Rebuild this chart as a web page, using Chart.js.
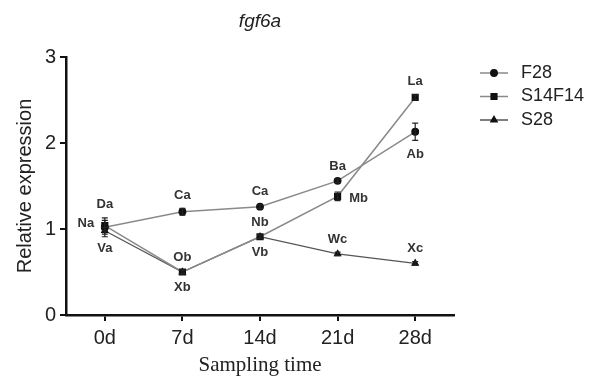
<!DOCTYPE html>
<html>
<head>
<meta charset="utf-8">
<script src="https://cdn.jsdelivr.net/npm/chart.js@4/dist/chart.umd.min.js"></script>
<style>
  html, body { margin: 0; padding: 0; background: #fff; }
  #wrap { width: 590px; height: 378px; }
</style>
</head>
<body>
<div id="wrap"><canvas id="graficoFgf"></canvas></div>
<script>
// dados
const dias = ['0d', '7d', '14d', '21d', '28d'];
const valoresF28 = [1.02, 1.20, 1.26, 1.56, 2.13];
const valoresS14F14 = [1.04, 0.50, 0.91, 1.38, 2.53];
const valoresS28 = [0.98, 0.50, 0.91, 0.71, 0.60];
const erroF28 = [0.11, 0.04, 0.02, 0.02, 0.10];
const erroS14F14 = [0.06, 0.02, 0.02, 0.05, 0.03];
const erroS28 = [0.04, 0.02, 0.02, 0.02, 0.02];
const letrasF28 = ['Da', 'Ca', 'Ca', 'Ba', 'Ab'];
const letrasS14F14 = ['Na', 'Ob', 'Nb', 'Mb', 'La'];
const letrasS28 = ['Va', 'Xb', 'Vb', 'Wc', 'Xc'];
const ticksY = [0, 1, 2, 3];

// onde cada letra fica em volta do ponto
const ladoF28 = ['top', 'top', 'top', 'top', 'bottom'];
const ladoS14F14 = ['left', 'top', 'top', 'right', 'top'];
const ladoS28 = ['bottom', 'bottom', 'bottom', 'top', 'top'];

const fonteSans = '"Liberation Sans", Arial, sans-serif';

const pluginExtras = {
    id: 'extras',
    afterDatasetsDraw(chart) {
        const ctx = chart.ctx;
        const y = chart.scales.y;
        ctx.save();
        chart.data.datasets.forEach((ds, i) => {
            const meta = chart.getDatasetMeta(i);
            meta.data.forEach((pt, j) => {
                const e = ds.erros[j];
                const yTop = y.getPixelForValue(ds.data[j] + e);
                const yBot = y.getPixelForValue(ds.data[j] - e);
                ctx.strokeStyle = '#222';
                ctx.lineWidth = 1.2;
                ctx.beginPath();
                ctx.moveTo(pt.x, yTop); ctx.lineTo(pt.x, yBot);
                ctx.moveTo(pt.x - 3, yTop); ctx.lineTo(pt.x + 3, yTop);
                ctx.moveTo(pt.x - 3, yBot); ctx.lineTo(pt.x + 3, yBot);
                ctx.stroke();

                // letras de significância
                const half = (yBot - yTop) / 2;
                ctx.fillStyle = '#333';
                ctx.font = 'bold 13px ' + fonteSans;
                ctx.textAlign = 'center';
                ctx.textBaseline = 'middle';
                let tx = pt.x, ty = pt.y;
                const lado = ds.lados[j];
                if (lado === 'top') ty = pt.y - 13 - half;
                else if (lado === 'bottom') ty = pt.y + 14 + half;
                else if (lado === 'left') { tx = pt.x - 19; ty = pt.y - 2; }
                else if (lado === 'right') { tx = pt.x + 21; ty = pt.y + 2; }
                ctx.fillText(ds.letras[j], tx, ty);
            });
        });
        ctx.restore();
    },
    afterDraw(chart) {
        const ctx = chart.ctx;
        ctx.save();
        // titulo
        ctx.fillStyle = '#222';
        ctx.font = 'italic 19px ' + fonteSans;
        ctx.textAlign = 'center';
        ctx.textBaseline = 'middle';
        ctx.fillText('fgf6a', 260, 22);

        // legenda
        chart.data.datasets.forEach((ds, i) => {
            const ly = 73 + i * 23.5;
            ctx.strokeStyle = ds.borderColor;
            ctx.lineWidth = 1.5;
            ctx.beginPath();
            ctx.moveTo(480, ly); ctx.lineTo(508, ly);
            ctx.stroke();
            ctx.fillStyle = '#111';
            ctx.strokeStyle = '#111';
            Chart.helpers.drawPoint(ctx, {
                pointStyle: ds.pointStyle,
                radius: ds.pointRadius,
                borderWidth: 1
            }, 494, ly);
            ctx.fillStyle = '#222';
            ctx.font = '18px ' + fonteSans;
            ctx.textAlign = 'left';
            ctx.fillText(ds.label, 521, ly);
        });
        ctx.restore();
    }
};

const grafico = new Chart(document.getElementById('graficoFgf'), {
    type: 'line',
    data: {
        labels: dias,
        datasets: [{
            label: 'F28',
            data: valoresF28,
            erros: erroF28,
            letras: letrasF28,
            lados: ladoF28,
            borderColor: '#8a8a8a',
            borderWidth: 1.5,
            pointStyle: 'circle',
            pointRadius: 3.2,
            pointBackgroundColor: '#111',
            pointBorderColor: '#111'
        }, {
            label: 'S14F14',
            data: valoresS14F14,
            erros: erroS14F14,
            letras: letrasS14F14,
            lados: ladoS14F14,
            borderColor: '#8a8a8a',
            borderWidth: 1.5,
            pointStyle: 'rect',
            pointRadius: 4,
            pointBackgroundColor: '#111',
            pointBorderColor: '#111'
        }, {
            label: 'S28',
            data: valoresS28,
            erros: erroS28,
            letras: letrasS28,
            lados: ladoS28,
            borderColor: '#555',
            borderWidth: 1.3,
            pointStyle: 'triangle',
            pointRadius: 3.5,
            pointBackgroundColor: '#111',
            pointBorderColor: '#111'
        }]
    },
    options: {
        responsive: true,
        maintainAspectRatio: false,
        animation: false,
        layout: { padding: { top: 57, right: 136, left: 0, bottom: 0 } },
        plugins: {
            legend: { display: false },
            tooltip: { enabled: false }
        },
        scales: {
            x: {
                offset: true,
                grid: {
                    offset: false,
                    drawOnChartArea: false,
                    color: '#111',
                    lineWidth: 2,
                    tickLength: 6
                },
                border: { color: '#111', width: 2.5 },
                ticks: {
                    color: '#222',
                    font: { family: fonteSans, size: 20 },
                    padding: 5
                },
                title: {
                    display: true,
                    text: 'Sampling time',
                    color: '#222',
                    font: { family: '"Liberation Serif", "Times New Roman", serif', size: 21 },
                    padding: { top: 2, bottom: 0 }
                },
                afterFit(scale) { scale.height = 63; }
            },
            y: {
                min: 0,
                max: 3,
                afterBuildTicks(scale) {
                    scale.ticks = ticksY.map(v => ({ value: v }));
                },
                grid: {
                    drawOnChartArea: false,
                    color: '#111',
                    lineWidth: 2,
                    tickLength: 6
                },
                border: { color: '#111', width: 2.5 },
                ticks: {
                    color: '#222',
                    font: { family: fonteSans, size: 20 },
                    padding: 4
                },
                title: {
                    display: true,
                    text: 'Relative expression',
                    color: '#222',
                    font: { family: fonteSans, size: 20 },
                    padding: { top: 13, bottom: 0 }
                },
                afterFit(scale) { scale.width = 66; }
            }
        }
    },
    plugins: [pluginExtras]
});
</script>
</body>
</html>
